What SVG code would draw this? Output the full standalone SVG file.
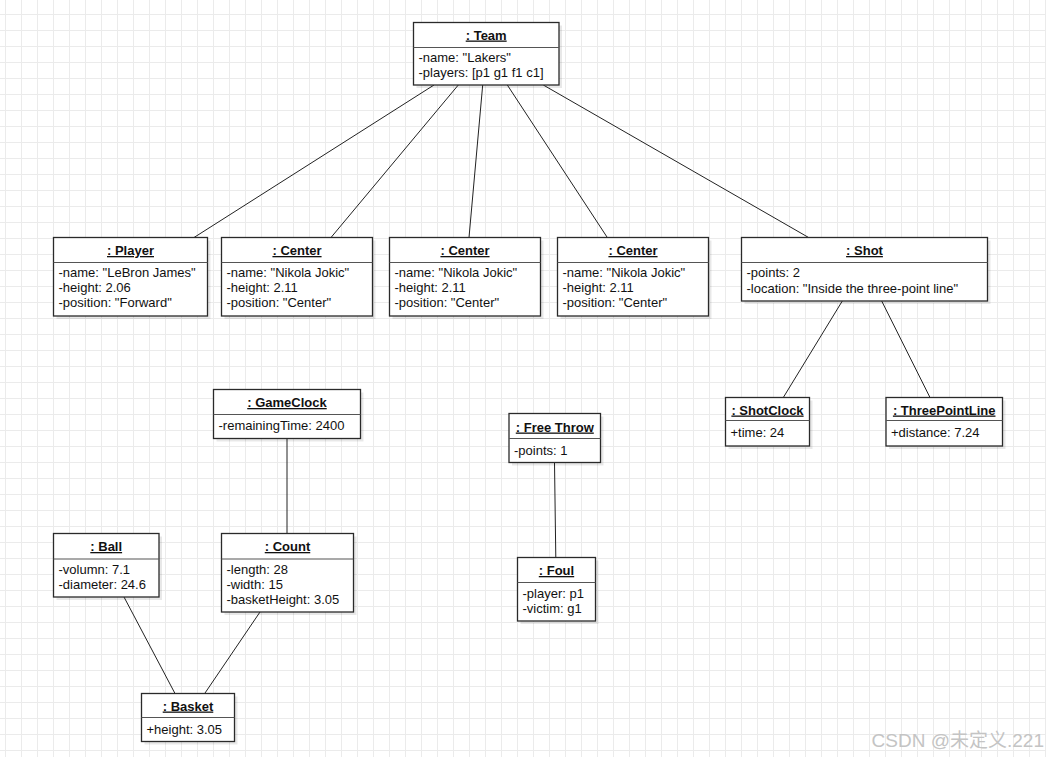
<svg xmlns="http://www.w3.org/2000/svg" width="1046" height="757" viewBox="0 0 1046 757">
<defs>
<pattern id="grid" patternUnits="userSpaceOnUse" x="0" y="0" width="16" height="16">
<rect x="5" y="0" width="1" height="16" fill="#ebebeb"/>
<rect x="0" y="14" width="16" height="1" fill="#ebebeb"/>
</pattern>
</defs>
<style>
.box{fill:#fff;stroke:#2a2a2a;stroke-width:1.3}
.sh{fill:#000;fill-opacity:0.09}
.div{stroke:#555;stroke-width:1.2}
.t{font-family:"Liberation Sans",Arial,sans-serif;font-size:13px;fill:#111}
.title{font-weight:bold;text-anchor:middle;text-decoration:underline}
.conn line{stroke:#222;stroke-width:1}
.wm{font-family:"Liberation Sans","Noto Sans CJK SC",sans-serif;font-size:19px;fill:#c4c4c4;text-anchor:end}
</style>
<rect width="1046" height="757" fill="#fff"/>
<rect width="1046" height="757" fill="url(#grid)"/>

<g id="connectors" class="conn">
<line x1="434" y1="85" x2="194" y2="237.5"/>
<line x1="458.3" y1="85" x2="331" y2="237.5"/>
<line x1="482.7" y1="85" x2="469" y2="237.5"/>
<line x1="507.3" y1="85" x2="607.3" y2="237.5"/>
<line x1="543.3" y1="85" x2="808.6" y2="237.5"/>
<line x1="842.3" y1="301" x2="783.3" y2="397.5"/>
<line x1="881.7" y1="301" x2="930" y2="397.5"/>
<line x1="287" y1="438.5" x2="287" y2="533.5"/>
<line x1="124" y1="597" x2="175" y2="693.5"/>
<line x1="260" y1="612" x2="204.7" y2="693.5"/>
<line x1="554.5" y1="462.5" x2="555.8" y2="557.5"/>
</g>

<g id="team">
<rect class="sh" x="416.5" y="25.5" width="145.5" height="62.5"/>
<rect class="box" x="413.5" y="22.5" width="145.5" height="62.5"/>
<line class="div" x1="413.5" y1="47.5" x2="559" y2="47.5"/>
<text class="t title" x="486.2" y="39.5">: Team</text>
<text class="t" x="418.5" y="62">-name: "Lakers"</text>
<text class="t" x="418.5" y="77">-players: [p1 g1 f1 c1]</text>
</g>

<g id="player">
<rect class="sh" x="56.5" y="240.5" width="154" height="78.5"/>
<rect class="box" x="53.5" y="237.5" width="154" height="78.5"/>
<line class="div" x1="53.5" y1="262.5" x2="207.5" y2="262.5"/>
<text class="t title" x="130.5" y="255">: Player</text>
<text class="t" x="58.5" y="277">-name: "LeBron James"</text>
<text class="t" x="58.5" y="292.2">-height: 2.06</text>
<text class="t" x="58.5" y="307.4">-position: "Forward"</text>
</g>

<g id="center1">
<rect class="sh" x="224.5" y="240.5" width="151" height="78.5"/>
<rect class="box" x="221.5" y="237.5" width="151" height="78.5"/>
<line class="div" x1="221.5" y1="262.5" x2="372.5" y2="262.5"/>
<text class="t title" x="297" y="255">: Center</text>
<text class="t" x="226.5" y="277">-name: "Nikola Jokic"</text>
<text class="t" x="226.5" y="292.2">-height: 2.11</text>
<text class="t" x="226.5" y="307.4">-position: "Center"</text>
</g>

<g id="center2">
<rect class="sh" x="392.5" y="240.5" width="151" height="78.5"/>
<rect class="box" x="389.5" y="237.5" width="151" height="78.5"/>
<line class="div" x1="389.5" y1="262.5" x2="540.5" y2="262.5"/>
<text class="t title" x="465" y="255">: Center</text>
<text class="t" x="394.5" y="277">-name: "Nikola Jokic"</text>
<text class="t" x="394.5" y="292.2">-height: 2.11</text>
<text class="t" x="394.5" y="307.4">-position: "Center"</text>
</g>

<g id="center3">
<rect class="sh" x="560.5" y="240.5" width="151" height="78.5"/>
<rect class="box" x="557.5" y="237.5" width="151" height="78.5"/>
<line class="div" x1="557.5" y1="262.5" x2="708.5" y2="262.5"/>
<text class="t title" x="633" y="255">: Center</text>
<text class="t" x="562.5" y="277">-name: "Nikola Jokic"</text>
<text class="t" x="562.5" y="292.2">-height: 2.11</text>
<text class="t" x="562.5" y="307.4">-position: "Center"</text>
</g>

<g id="shot">
<rect class="sh" x="744.5" y="240.5" width="246" height="63.5"/>
<rect class="box" x="741.5" y="237.5" width="246" height="63.5"/>
<line class="div" x1="741.5" y1="262.5" x2="987.5" y2="262.5"/>
<text class="t title" x="864.5" y="255">: Shot</text>
<text class="t" x="746.5" y="277">-points: 2</text>
<text class="t" x="746.5" y="292.6">-location: "Inside the three-point line"</text>
</g>

<g id="shotclock">
<rect class="sh" x="728.5" y="400.5" width="84" height="48.5"/>
<rect class="box" x="725.5" y="397.5" width="84" height="48.5"/>
<line class="div" x1="725.5" y1="420.5" x2="809.5" y2="420.5"/>
<text class="t title" x="767.5" y="414.5">: ShotClock</text>
<text class="t" x="730.5" y="437">+time: 24</text>
</g>

<g id="threepointline">
<rect class="sh" x="889" y="400.5" width="116.5" height="48.5"/>
<rect class="box" x="886" y="397.5" width="116.5" height="48.5"/>
<line class="div" x1="886" y1="420.5" x2="1002.5" y2="420.5"/>
<text class="t title" x="944.2" y="414.5">: ThreePointLine</text>
<text class="t" x="891" y="437">+distance: 7.24</text>
</g>

<g id="gameclock">
<rect class="sh" x="216.5" y="392.5" width="147" height="49"/>
<rect class="box" x="213.5" y="389.5" width="147" height="49"/>
<line class="div" x1="213.5" y1="414.5" x2="360.5" y2="414.5"/>
<text class="t title" x="287" y="407">: GameClock</text>
<text class="t" x="218.5" y="430">-remainingTime: 2400</text>
</g>

<g id="count">
<rect class="sh" x="224.5" y="536.5" width="132" height="78.5"/>
<rect class="box" x="221.5" y="533.5" width="132" height="78.5"/>
<line class="div" x1="221.5" y1="559" x2="353.5" y2="559"/>
<text class="t title" x="287.5" y="551">: Count</text>
<text class="t" x="226.5" y="574">-length: 28</text>
<text class="t" x="226.5" y="588.7">-width: 15</text>
<text class="t" x="226.5" y="604">-basketHeight: 3.05</text>
</g>

<g id="ball">
<rect class="sh" x="56.5" y="536.5" width="105.5" height="63.5"/>
<rect class="box" x="53.5" y="533.5" width="105.5" height="63.5"/>
<line class="div" x1="53.5" y1="559" x2="159" y2="559"/>
<text class="t title" x="106.2" y="551">: Ball</text>
<text class="t" x="58.5" y="574">-volumn: 7.1</text>
<text class="t" x="58.5" y="588.7">-diameter: 24.6</text>
</g>

<g id="basket">
<rect class="sh" x="144.5" y="696.5" width="93" height="48"/>
<rect class="box" x="141.5" y="693.5" width="93" height="48"/>
<line class="div" x1="141.5" y1="717.5" x2="234.5" y2="717.5"/>
<text class="t title" x="188" y="710.5">: Basket</text>
<text class="t" x="146.5" y="734">+height: 3.05</text>
</g>

<g id="freethrow">
<rect class="sh" x="512" y="416.5" width="91.5" height="49"/>
<rect class="box" x="509" y="413.5" width="91.5" height="49"/>
<line class="div" x1="509" y1="438.5" x2="600.5" y2="438.5"/>
<text class="t title" x="554.8" y="431.5">: Free Throw</text>
<text class="t" x="514" y="455">-points: 1</text>
</g>

<g id="foul">
<rect class="sh" x="520.5" y="560.5" width="78" height="63.5"/>
<rect class="box" x="517.5" y="557.5" width="78" height="63.5"/>
<line class="div" x1="517.5" y1="582.5" x2="595.5" y2="582.5"/>
<text class="t title" x="556.5" y="575">: Foul</text>
<text class="t" x="522.5" y="598">-player: p1</text>
<text class="t" x="522.5" y="612.5">-victim: g1</text>
</g>

<text class="wm" x="1044" y="746.5">CSDN @未定义.221</text>
</svg>
